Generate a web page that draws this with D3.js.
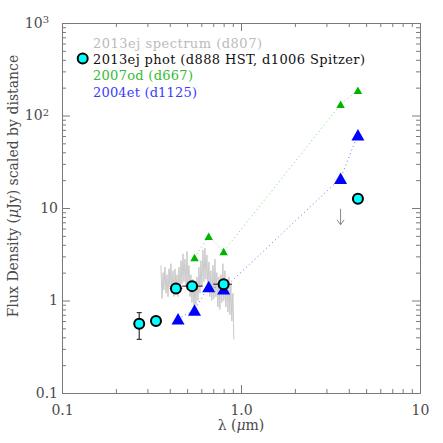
<!DOCTYPE html>
<html><head><meta charset="utf-8">
<script src="https://cdn.jsdelivr.net/npm/d3@7"></script>
<style>body{margin:0;background:#fff}svg{display:block}</style>
</head><body><svg id="c" width="443" height="443"></svg>
<script>
// ---- data ----
const specWave = [0.357,0.362,0.367,0.371,0.376,0.381,0.386,0.391,0.396,0.401,0.406,0.411,0.417,0.422,0.428,0.433,0.439,0.444,0.450,0.456,0.462,0.468,0.474,0.480,0.486,0.493,0.499,0.505,0.512,0.519,0.525,0.532,0.539,0.546,0.553,0.560,0.567,0.575,0.582,0.590,0.597,0.605,0.613,0.621,0.629,0.637,0.645,0.653,0.662,0.670,0.679,0.688,0.697,0.706,0.715,0.724,0.733,0.743,0.752,0.762,0.772,0.782,0.792,0.802,0.813,0.823,0.834,0.845,0.856,0.867,0.878,0.889,0.901,0.912];
const specFlux = [2.4,1.05,2.0,1.3,2.3,1.2,1.9,1.1,2.2,1.4,2.5,1.2,2.1,1.1,2.2,1.4,1.9,1.1,2.3,1.3,2.7,1.5,3.2,1.6,2.8,1.4,3.4,1.5,2.4,1.1,1.9,0.95,1.7,0.8,1.6,0.9,1.8,1.0,2.3,1.2,2.7,1.4,3.5,1.6,3.7,1.7,3.1,1.3,2.6,1.1,2.1,1.0,2.4,1.05,2.8,1.1,2.0,0.85,1.8,0.8,1.9,0.95,2.5,1.0,2.1,0.85,1.7,0.75,1.8,0.7,1.5,0.6,1.2,0.38];

const photWave = [0.27, 0.335, 0.433, 0.533, 0.80, 4.5];
const photFlux = [0.56, 0.60, 1.35, 1.43, 1.50, 12.6];
const photYLo  = [0.38, null, null, null, null, 11.6];
const photYHi  = [0.74, null, null, null, null, 13.6];
const photXLo  = [null, null, 0.40, 0.47, 0.70, null];
const photXHi  = [null, null, 0.47, 0.61, 0.89, null];

const limWave = [3.6];
const limFlux = [9.8];

const od07Wave = [0.55, 0.66, 0.80, 3.6, 4.5];
const od07Flux = [2.92, 4.96, 3.39, 132, 188];

const et04Wave = [0.445, 0.55, 0.66, 0.80, 3.6, 4.5];
const et04Flux = [0.634, 0.79, 1.42, 1.34, 21, 62];

const xMajor = [0.1, 1, 10];
const xTickLabels = ["0.1", "1.0", "10"];
const xMinor = [0.2,0.3,0.4,0.5,0.6,0.7,0.8,0.9,2,3,4,5,6,7,8,9];
const yMajor = [0.1, 1, 10, 100, 1000];
const yTickLabels = ["0.1", "1", "10", "10^2", "10^3"];
const yMinor = [0.2,0.3,0.4,0.5,0.6,0.7,0.8,0.9,2,3,4,5,6,7,8,9,20,30,40,50,60,70,80,90,200,300,400,500,600,700,800,900];

const legendLabels = ["2013ej spectrum (d807)", "2013ej phot (d888 HST, d1006 Spitzer)", "2007od (d667)", "2004et (d1125)"];
const legendColors = ["#bbbbbb", "#111111", "#33bb33", "#3a3aff"];

// ---- layout ----
const W = 443, H = 443, m = {l: 62, r: 23, t: 23, b: 50};
const FONT = "'DejaVu Serif', 'Liberation Serif', serif";
const AX = "#7a7a7a", TX = "#4a4a4a";
const x = d3.scaleLog().domain([0.1, 10]).range([m.l, W - m.r]);
const y = d3.scaleLog().domain([0.1, 1000]).range([H - m.b, m.t]);
const svg = d3.select("#c");

function styleAxis(g) {
  g.selectAll("path.domain").attr("stroke", AX).attr("stroke-width", 1);
  g.selectAll(".tick line").attr("stroke", AX).attr("stroke-width", 1);
  g.selectAll("text").attr("fill", TX).attr("font-family", FONT).attr("font-size", 14);
}
const none = () => "";
// bottom
svg.append("g").attr("transform", `translate(0,${H - m.b})`)
  .call(d3.axisBottom(x).tickValues(xMinor).tickSizeInner(-4).tickSizeOuter(0).tickFormat(none)).call(styleAxis);
svg.append("g").attr("transform", `translate(0,${H - m.b})`)
  .call(d3.axisBottom(x).tickValues(xMajor).tickSizeInner(-8).tickSizeOuter(0).tickPadding(12)
    .tickFormat((d, i) => xTickLabels[i])).call(styleAxis);
// top
svg.append("g").attr("transform", `translate(0,${m.t})`)
  .call(d3.axisTop(x).tickValues(xMinor).tickSizeInner(-4).tickSizeOuter(0).tickFormat(none)).call(styleAxis);
svg.append("g").attr("transform", `translate(0,${m.t})`)
  .call(d3.axisTop(x).tickValues(xMajor).tickSizeInner(-8).tickSizeOuter(0).tickFormat(none)).call(styleAxis);
// left
svg.append("g").attr("transform", `translate(${m.l},0)`)
  .call(d3.axisLeft(y).tickValues(yMinor).tickSizeInner(-4).tickSizeOuter(0).tickFormat(none)).call(styleAxis);
const yl = svg.append("g").attr("transform", `translate(${m.l},0)`)
  .call(d3.axisLeft(y).tickValues(yMajor).tickSizeInner(-8).tickSizeOuter(0).tickPadding(4)
    .tickFormat((d, i) => yTickLabels[i])).call(styleAxis);
yl.selectAll(".tick text").each(function () {
  const t = d3.select(this), s = t.text();
  if (s.includes("^")) {
    const [b, e] = s.split("^");
    t.text(b).attr("x", -13);
    t.append("tspan").attr("dy", "-0.45em").attr("font-size", 10).text(e);
  }
});
// right
svg.append("g").attr("transform", `translate(${W - m.r},0)`)
  .call(d3.axisRight(y).tickValues(yMinor).tickSizeInner(-4).tickSizeOuter(0).tickFormat(none)).call(styleAxis);
svg.append("g").attr("transform", `translate(${W - m.r},0)`)
  .call(d3.axisRight(y).tickValues(yMajor).tickSizeInner(-8).tickSizeOuter(0).tickFormat(none)).call(styleAxis);

// axis titles
const xt = svg.append("text").attr("x", x(1)).attr("y", 430).attr("text-anchor", "middle")
  .attr("font-family", FONT).attr("font-size", 14).attr("fill", TX);
xt.append("tspan").text("λ (");
xt.append("tspan").attr("font-style", "italic").text("μ");
xt.append("tspan").text("m)");
const ytl = svg.append("text").attr("transform", `translate(18,186) rotate(-90)`).attr("text-anchor", "middle")
  .attr("font-family", FONT).attr("font-size", 14).attr("fill", TX);
ytl.append("tspan").text("Flux Density (");
ytl.append("tspan").attr("font-style", "italic").text("μ");
ytl.append("tspan").text("Jy) scaled by distance");

// spectrum
const spec = specWave.map((w, i) => [w, specFlux[i]]);
svg.append("path").datum(spec)
  .attr("d", d3.line().x(d => x(d[0])).y(d => y(d[1])))
  .attr("fill", "none").attr("stroke", "#c4c4c4").attr("stroke-width", 0.9);

// dotted connecting lines
const line = d3.line().x(d => x(d[0])).y(d => y(d[1]));
const od = od07Wave.map((w, i) => [w, od07Flux[i]]);
const et = et04Wave.map((w, i) => [w, et04Flux[i]]);
svg.append("path").datum(od).attr("d", line).attr("fill", "none")
  .attr("stroke", "#66dd66").attr("stroke-width", 1).attr("stroke-dasharray", "1,3");
svg.append("path").datum(et).attr("d", line).attr("fill", "none")
  .attr("stroke", "#6a6aff").attr("stroke-width", 1).attr("stroke-dasharray", "1,3");

// error bars for photometry
const phot = photWave.map((w, i) => ({w, f: photFlux[i], ylo: photYLo[i], yhi: photYHi[i], xlo: photXLo[i], xhi: photXHi[i]}));
const eb = svg.append("g").attr("stroke", "#333").attr("stroke-width", 1.2);
phot.filter(d => d.ylo != null).forEach(d => {
  eb.append("line").attr("x1", x(d.w)).attr("x2", x(d.w)).attr("y1", y(d.ylo)).attr("y2", y(d.yhi))
    .attr("stroke", d.w > 2 ? "#999" : "#333");
  if (d.w < 2) {
    eb.append("line").attr("x1", x(d.w) - 2.5).attr("x2", x(d.w) + 2.5).attr("y1", y(d.ylo)).attr("y2", y(d.ylo));
    eb.append("line").attr("x1", x(d.w) - 2.5).attr("x2", x(d.w) + 2.5).attr("y1", y(d.yhi)).attr("y2", y(d.yhi));
  }
});
phot.filter(d => d.xlo != null).forEach(d => {
  eb.append("line").attr("x1", x(d.xlo)).attr("x2", x(d.xhi)).attr("y1", y(d.f)).attr("y2", y(d.f));
});

// upper limit arrow
limWave.forEach((w, i) => {
  const cx = x(w), y0 = y(limFlux[i]), y1 = y0 + 16;
  svg.append("line").attr("x1", cx).attr("x2", cx).attr("y1", y0).attr("y2", y1).attr("stroke", "#888").attr("stroke-width", 1);
  svg.append("path").attr("d", `M${cx - 3.5},${y1 - 5}L${cx},${y1}L${cx + 3.5},${y1 - 5}`)
    .attr("fill", "none").attr("stroke", "#888").attr("stroke-width", 1);
});

// triangles
function tri(w, h) { return `M0,${-h / 2}L${w / 2},${h / 2}L${-w / 2},${h / 2}Z`; }
svg.append("g").selectAll("path").data(od).join("path")
  .attr("transform", d => `translate(${x(d[0])},${y(d[1])})`).attr("d", tri(8.5, 7.5)).attr("fill", "#00b400");
svg.append("g").selectAll("path").data(et).join("path")
  .attr("transform", d => `translate(${x(d[0])},${y(d[1])})`).attr("d", tri(13, 11.5)).attr("fill", "#0000ff");

// photometry circles
svg.append("g").selectAll("circle").data(phot).join("circle")
  .attr("cx", d => x(d.w)).attr("cy", d => y(d.f)).attr("r", 5)
  .attr("fill", "#00ffff").attr("stroke", "#000").attr("stroke-width", 2);

// legend
const legW = [169, 272, 100, 104];
const legY = [47.5, 63.8, 80, 96.5];
legendLabels.forEach((s, i) => {
  svg.append("text").attr("x", 93).attr("y", legY[i]).attr("font-family", FONT).attr("font-size", 13)
    .attr("fill", legendColors[i]).attr("textLength", legW[i]).attr("lengthAdjust", "spacing").text(s);
});
svg.append("circle").attr("cx", 82.7).attr("cy", 58.5).attr("r", 5)
  .attr("fill", "#00ffff").attr("stroke", "#000").attr("stroke-width", 2);
</script></body></html>
